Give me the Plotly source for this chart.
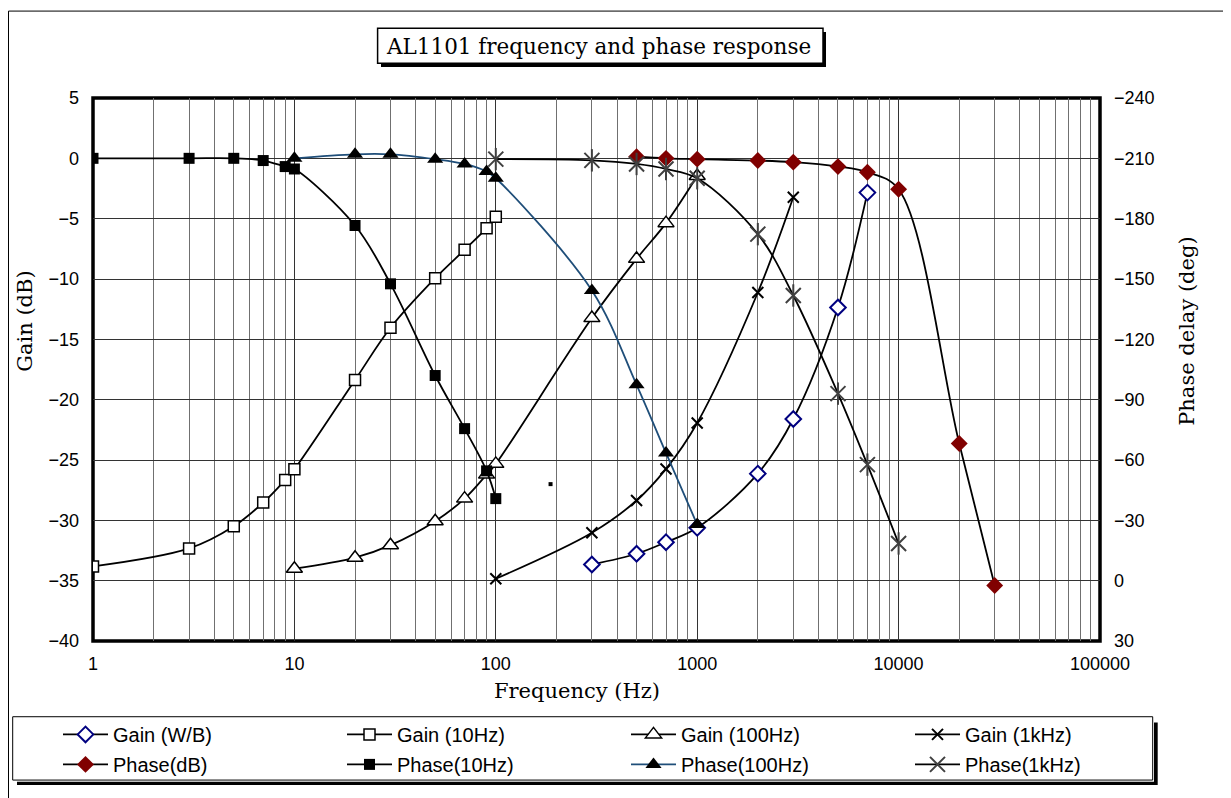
import plotly.graph_objects as go

# ---------------- data ----------------
title_text = "AL1101 frequency and phase response"

freq_wb = [300, 500, 700, 1000, 2000, 3000, 5000, 7000]
gain_wb = [-33.66, -32.77, -31.81, -30.62, -26.13, -21.60, -12.36, -2.84]

freq_10 = [1, 3, 5, 7, 9, 10, 20, 30, 50, 70, 90, 100]
gain_10 = [-33.82, -32.33, -30.49, -28.53, -26.65, -25.77, -18.37, -14.04, -9.93, -7.58, -5.79, -4.85]

freq_100 = [10, 20, 30, 50, 70, 90, 100, 300, 500, 700, 1000]
gain_100 = [-34.01, -33.10, -32.06, -30.07, -28.20, -26.21, -25.32, -13.24, -8.33, -5.37, -1.46]

freq_1k = [100, 300, 500, 700, 1000, 2000, 3000]
gain_1k = [-34.84, -31.03, -28.36, -25.74, -21.93, -11.12, -3.22]

freq_ph_db = [500, 700, 1000, 2000, 3000, 5000, 7000, 10000, 20000, 30000]
phase_db = [-210.8, -210.0, -209.6, -208.9, -208.1, -205.9, -203.1, -194.6, -68.2, 2.4]

freq_ph_10 = [1, 3, 5, 7, 9, 10, 20, 30, 50, 70, 90, 100]
phase_10 = [-210.0, -210.0, -210.0, -208.9, -205.9, -204.7, -176.6, -147.6, -102.0, -75.6, -54.6, -40.8]

freq_ph_100 = [10, 20, 30, 50, 70, 90, 100, 300, 500, 700, 1000]
phase_100 = [-210.0, -212.0, -212.0, -209.6, -207.2, -203.4, -200.1, -144.3, -97.4, -63.5, -27.9]

freq_ph_1k = [100, 300, 500, 700, 1000, 2000, 3000, 5000, 7000, 10000]
phase_1k = [-209.6, -209.0, -207.2, -204.7, -200.1, -172.3, -141.8, -93.0, -57.7, -18.5]

stray_freq = [187]
stray_gain = [-27.0]

x_tickvals = [1, 10, 100, 1000, 10000, 100000]
x_ticktext = ["1", "10", "100", "1000", "10000", "100000"]
y_tickvals = [5, 0, -5, -10, -15, -20, -25, -30, -35, -40]
y2_tickvals = [-240, -210, -180, -150, -120, -90, -60, -30, 0, 30]

# ---------------- layout geometry (pixels) ----------------
OFF = 8  # page body margin of the html page
W, H = 1231 - OFF, 798 - OFF
ML, MR, MT, MB = 93 - OFF, 131, 98 - OFF, 156.5
PW = W - ML - MR
PH = H - MT - MB


def px(x):
    return (x - OFF - ML) / PW


def py(y):
    return (H - MB - (y - OFF)) / PH


SERIF = "DejaVu Serif, Liberation Serif, serif"
NARROW = "Liberation Sans Narrow, Liberation Sans, Arial, sans-serif"
SANS = "Liberation Sans, Arial, sans-serif"

fig = go.Figure()

common = dict(mode="lines+markers", line_shape="spline")

fig.add_trace(go.Scatter(x=freq_wb, y=gain_wb, name="Gain (W/B)", legend="legend",
                         line=dict(color="black", width=1.8),
                         marker=dict(symbol="diamond", size=12, color="white",
                                     line=dict(color="#000080", width=2)), **common))
fig.add_trace(go.Scatter(x=freq_10, y=gain_10, name="Gain (10Hz)", legend="legend",
                         line=dict(color="black", width=1.8),
                         marker=dict(symbol="square", size=11, color="white",
                                     line=dict(color="black", width=1.5)), **common))
fig.add_trace(go.Scatter(x=freq_100, y=gain_100, name="Gain (100Hz)", legend="legend",
                         line=dict(color="black", width=1.8),
                         marker=dict(symbol="triangle-up", size=14, color="white",
                                     line=dict(color="black", width=1.5)), **common))
fig.add_trace(go.Scatter(x=freq_1k, y=gain_1k, name="Gain (1kHz)", legend="legend",
                         line=dict(color="black", width=1.8),
                         marker=dict(symbol="x-thin", size=11, color="black",
                                     line=dict(color="black", width=2)), **common))
fig.add_trace(go.Scatter(x=stray_freq, y=stray_gain, mode="markers", showlegend=False,
                         marker=dict(symbol="square", size=4, color="black"),
                         hoverinfo="skip"))

fig.add_trace(go.Scatter(x=freq_ph_db, y=phase_db, name="Phase(dB)", legend="legend2", yaxis="y2",
                         line=dict(color="black", width=1.8),
                         marker=dict(symbol="diamond", size=13, color="#800000",
                                     line=dict(width=0)), **common))
fig.add_trace(go.Scatter(x=freq_ph_10, y=phase_10, name="Phase(10Hz)", legend="legend2", yaxis="y2",
                         line=dict(color="black", width=1.8),
                         marker=dict(symbol="square", size=11, color="black"), **common))
fig.add_trace(go.Scatter(x=freq_ph_100, y=phase_100, name="Phase(100Hz)", legend="legend2", yaxis="y2",
                         line=dict(color="#1F4E79", width=1.8),
                         marker=dict(symbol="triangle-up", size=14, color="black"), **common))
fig.add_trace(go.Scatter(x=freq_ph_1k, y=phase_1k, name="Phase(1kHz)", legend="legend2", yaxis="y2",
                         line=dict(color="black", width=1.8),
                         marker=dict(symbol="x-thin-open", size=15, color="#404040",
                                     line=dict(color="#404040", width=2)), **common))
fig.add_trace(go.Scatter(x=freq_ph_1k, y=phase_1k, mode="markers", yaxis="y2", showlegend=False,
                         hoverinfo="skip",
                         marker=dict(symbol="line-ns-open", size=16, color="#404040",
                                     line=dict(color="#404040", width=2))))

minor_vals = [m * 10 ** d for d in range(0, 5) for m in range(2, 10)]

fig.update_layout(
    width=W, height=H,
    margin=dict(l=ML, r=MR, t=MT, b=MB, autoexpand=False),
    paper_bgcolor="white", plot_bgcolor="white",
    xaxis=dict(type="log", range=[0, 5], tickvals=x_tickvals, ticktext=x_ticktext,
               showgrid=True, gridcolor="#333333", gridwidth=1,
               minor=dict(tickvals=minor_vals, showgrid=True, gridcolor="#707070", gridwidth=1, ticks=""),
               showline=False, zeroline=False, ticks="", ticklabelstandoff=10,
               tickfont=dict(family=NARROW, size=18, color="black")),
    yaxis=dict(range=[-40, 5], tickvals=y_tickvals, showgrid=True, gridcolor="#333333", gridwidth=1,
               showline=False, zeroline=False, ticks="", ticklabelstandoff=13,
               tickfont=dict(family=NARROW, size=18, color="black")),
    yaxis2=dict(range=[30, -240], tickvals=y2_tickvals, overlaying="y", side="right",
                showgrid=False, showline=False, zeroline=False, ticks="", ticklabelstandoff=13,
                tickfont=dict(family=NARROW, size=18, color="black")),
    legend=dict(orientation="h", x=px(1194), xanchor="right", y=py(735), yanchor="middle",
                entrywidth=224, entrywidthmode="pixels", itemwidth=45,
                bgcolor="rgba(0,0,0,0)", borderwidth=0,
                font=dict(family=SANS, size=20, color="black")),
    legend2=dict(orientation="h", x=px(1194), xanchor="right", y=py(765), yanchor="middle",
                 entrywidth=224, entrywidthmode="pixels", itemwidth=45,
                 bgcolor="rgba(0,0,0,0)", borderwidth=0,
                 font=dict(family=SANS, size=20, color="black")),
    showlegend=True,
)

shapes = []
# outer chart border (top and left)
shapes.append(dict(type="line", xref="paper", yref="paper", x0=px(8.5), x1=px(1240), y0=py(11), y1=py(11),
                   line=dict(color="black", width=1)))
shapes.append(dict(type="line", xref="paper", yref="paper", x0=px(8.5), x1=px(8.5), y0=py(11), y1=py(810),
                   line=dict(color="black", width=1)))
# plot frame
shapes.append(dict(type="rect", xref="paper", yref="paper", x0=0, x1=1, y0=0, y1=1,
                   line=dict(color="black", width=3.5), layer="between"))
# title box with shadow
shapes.append(dict(type="rect", xref="paper", yref="paper", x0=px(381), x1=px(826), y0=py(32), y1=py(67),
                   line=dict(width=0), fillcolor="black", layer="below"))
shapes.append(dict(type="rect", xref="paper", yref="paper", x0=px(377.6), x1=px(823), y0=py(28.3), y1=py(63.3),
                   line=dict(color="black", width=1.5), fillcolor="white", layer="below"))
# legend box with shadow
shapes.append(dict(type="rect", xref="paper", yref="paper", x0=px(17), x1=px(1157.7), y0=py(723), y1=py(785.7),
                   line=dict(width=0), fillcolor="black", layer="below"))
shapes.append(dict(type="rect", xref="paper", yref="paper", x0=px(12.7), x1=px(1154), y0=py(717.3), y1=py(782.4),
                   line=dict(width=0), fillcolor="white", layer="below"))
shapes.append(dict(type="rect", xref="paper", yref="paper", x0=px(12.7), x1=px(1152.7), y0=py(717.3), y1=py(780.7),
                   line=dict(color="black", width=1), fillcolor="rgba(0,0,0,0)", layer="below"))
fig.update_layout(shapes=shapes)

annotations = [
    dict(text=title_text, xref="paper", yref="paper", x=px(598), y=py(46), xanchor="center", yanchor="middle",
         showarrow=False, font=dict(family=SERIF, size=21.5, color="black")),
    dict(text="Gain (dB)", xref="paper", yref="paper", x=px(25), y=py(322), xanchor="center", yanchor="middle",
         textangle=-90, showarrow=False, font=dict(family=SERIF, size=21, color="black")),
    dict(text="Phase delay (deg)", xref="paper", yref="paper", x=px(1187), y=py(332), xanchor="center",
         yanchor="middle", textangle=-90, showarrow=False, font=dict(family=SERIF, size=21, color="black")),
    dict(text="Frequency (Hz)", xref="paper", yref="paper", x=px(577), y=py(692), xanchor="center",
         yanchor="middle", showarrow=False, font=dict(family=SERIF, size=21, color="black")),
]
fig.update_layout(annotations=annotations)

fig.write_html("out.html")
